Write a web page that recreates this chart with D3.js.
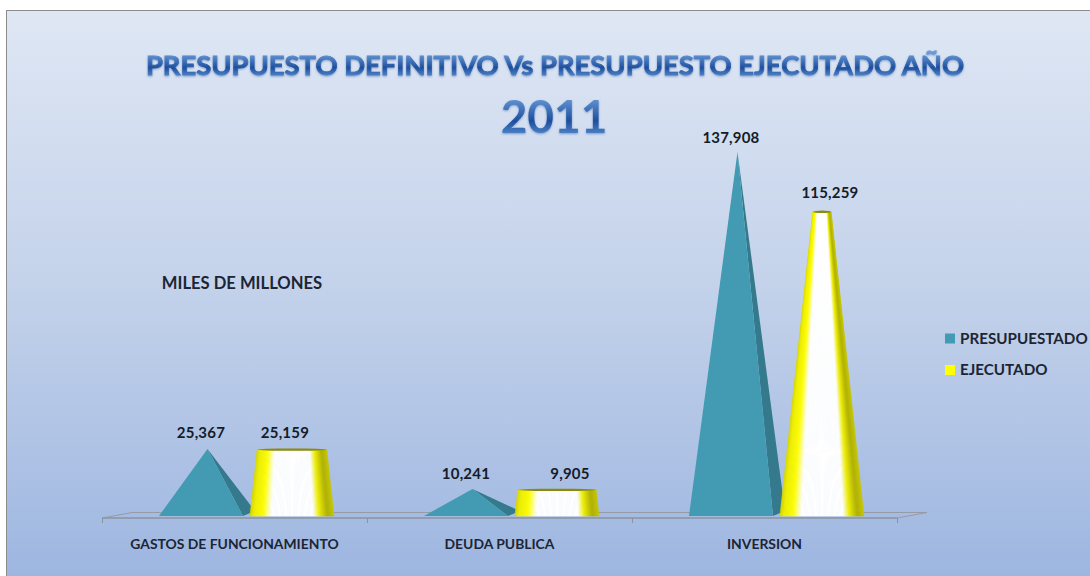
<!DOCTYPE html>
<html lang="en">
  <head>
    <title>Presupuesto definitivo vs ejecutado 2011</title>
    <meta charset="utf-8" />
    <script src="https://cdn.jsdelivr.net/npm/d3@7"></script>
    <style>
      html, body { margin: 0; padding: 0; background: #fff; }
      svg { display: block; }
      text { font-family: Lato, "Open Sans", sans-serif; font-weight: 700; }
    </style>
  </head>

  <body>
    <div id="chart"></div>

    <script>
      const categories = ["GASTOS DE FUNCIONAMIENTO", "DEUDA PUBLICA", "INVERSION"];
      const presupuestado = [25367, 10241, 137908];
      const ejecutado = [25159, 9905, 115259];
      const seriesNames = ["PRESUPUESTADO", "EJECUTADO"];
      const titleLine = "PRESUPUESTO DEFINITIVO Vs PRESUPUESTO EJECUTADO AÑO";
      const yearLine = "2011";
      const unitNote = "MILES DE MILLONES";

      const w = 1090;
      const h = 576;
      const fmt = d3.format(",");

      const svg = d3
        .select("#chart")
        .append("svg")
        .attr("width", w)
        .attr("height", h);

      const defs = svg.append("defs");

      const bg = defs
        .append("linearGradient")
        .attr("id", "bg")
        .attr("x1", 0)
        .attr("y1", 0)
        .attr("x2", 0)
        .attr("y2", 1);
      bg.append("stop").attr("offset", "0%").attr("stop-color", "#dfe7f4");
      bg.append("stop").attr("offset", "50%").attr("stop-color", "#c2d1ea");
      bg.append("stop").attr("offset", "100%").attr("stop-color", "#9cb5e0");

      const titleFill = defs
        .append("linearGradient")
        .attr("id", "titleFill")
        .attr("x1", 0)
        .attr("y1", 0)
        .attr("x2", 0)
        .attr("y2", 1);
      titleFill.append("stop").attr("offset", "15%").attr("stop-color", "#6b9bd8");
      titleFill.append("stop").attr("offset", "60%").attr("stop-color", "#1d4f9e");
      titleFill.append("stop").attr("offset", "90%").attr("stop-color", "#5b8fd2");

      const shadow = defs.append("filter").attr("id", "titleShadow");
      shadow
        .append("feDropShadow")
        .attr("dx", 0)
        .attr("dy", 1)
        .attr("stdDeviation", 0.8)
        .attr("flood-color", "#5a7fb5")
        .attr("flood-opacity", 0.7);

      // panel
      svg
        .append("rect")
        .attr("x", 6.5)
        .attr("y", 10.5)
        .attr("width", w)
        .attr("height", h)
        .attr("fill", "url(#bg)")
        .attr("stroke", "#8c8c8c");

      // scales
      const x = d3.scaleBand().domain(categories).range([102, 897]);
      const inner = d3
        .scaleBand()
        .domain(seriesNames)
        .range([0, 265])
        .paddingInner(0.077)
        .paddingOuter(0.4945)
        .align(0.633);
      const y = d3.scaleLinear().domain([0, 137908]).range([516, 152]);

      // floor
      const floorDepth = 30;
      const floorFront = 518;
      const floorBack = 512.5;
      const floorX = x.range();
      svg
        .append("path")
        .attr(
          "d",
          `M${floorX[0]},${floorFront}L${floorX[0] + floorDepth},${floorBack}` +
            `L${floorX[1] + floorDepth},${floorBack}L${floorX[1]},${floorFront}`
        )
        .attr("fill", "none")
        .attr("stroke", "#979ba6")
        .attr("stroke-width", 1);
      svg
        .append("line")
        .attr("x1", floorX[0])
        .attr("x2", floorX[1])
        .attr("y1", floorFront)
        .attr("y2", floorFront)
        .attr("stroke", "#8d93a0")
        .attr("stroke-width", 1.5);
      svg
        .append("g")
        .selectAll("line")
        .data(categories.concat("end"))
        .join("line")
        .attr("x1", (d, i) => (i < 3 ? x(d) : floorX[1]) + 0.5)
        .attr("x2", (d, i) => (i < 3 ? x(d) : floorX[1]) + 0.5)
        .attr("y1", floorFront)
        .attr("y2", floorFront + 5)
        .attr("stroke", "#8d93a0");

      // pyramids
      const pyramidDepth = 12;
      const tipShift = 6.5;
      const pyr = svg
        .append("g")
        .selectAll("g")
        .data(presupuestado)
        .join("g");
      const px = (i) => x(categories[i]) + inner(seriesNames[0]);
      const bw = inner.bandwidth();
      pyr
        .append("path")
        .attr("fill", "#35798c")
        .attr("d", function (d, i) {
          const tip = px(i) + bw / 2 + tipShift;
          return `M${tip},${y(d)}L${px(i) + bw + pyramidDepth},${y(0) - 5}L${px(i) + bw},${y(0)}Z`;
        });
      pyr
        .append("path")
        .attr("fill", "#429bb2")
        .attr("d", function (d, i) {
          const tip = px(i) + bw / 2 + tipShift;
          return `M${tip},${y(d)}L${px(i) + bw},${y(0)}L${px(i)},${y(0)}Z`;
        });

      // cones: they all taper towards the same apex value
      const coneApex = 147000;
      const coneColor = d3
        .scaleLinear()
        .domain([0, 0.04, 0.15, 0.25, 0.75, 0.82, 0.92, 1])
        .range(["#d8d800", "#eeee00", "#ffff00", "#ffffff", "#ffffff", "#eeee00", "#b0b000", "#c8c800"]);
      const stripCount = 70;
      const strips = d3.range(stripCount).map((k) => k / stripCount);
      const cx = (i) => x(categories[i]) + inner(seriesNames[1]) + bw / 2;
      const halfAt = (v) => (bw / 2) * (1 - v / coneApex);

      const cones = svg
        .append("g")
        .selectAll("g")
        .data(ejecutado)
        .join("g");
      cones.each(function (d, i) {
        const g = d3.select(this);
        const c = cx(i);
        const b = halfAt(0);
        const t = halfAt(d);
        g.selectAll("path")
          .data(strips)
          .join("path")
          .attr("fill", (f) => coneColor(f))
          .attr("stroke", (f) => coneColor(f))
          .attr("stroke-width", 0.6)
          .attr("d", function (f) {
            const f2 = f + 1 / stripCount;
            return (
              `M${c - b + 2 * b * f},${y(0)}L${c - t + 2 * t * f},${y(d)}` +
              `L${c - t + 2 * t * f2},${y(d)}L${c - b + 2 * b * f2},${y(0)}Z`
            );
          });
        g.append("ellipse")
          .attr("cx", c)
          .attr("cy", y(d))
          .attr("rx", t)
          .attr("ry", 1.2)
          .attr("fill", "#8a8a12");
      });

      // value labels, nudged by hand like the original
      const coneLabelShift = [-7, 13, 8];
      const coneLabelLift = [12, 11, 14];
      const pyrLabelLift = [11, 10, 9];
      svg
        .append("g")
        .selectAll("text")
        .data(presupuestado)
        .join("text")
        .attr("x", (d, i) => px(i) + bw / 2)
        .attr("y", (d, i) => y(d) - pyrLabelLift[i])
        .attr("text-anchor", "middle")
        .attr("font-size", 15)
        .attr("letter-spacing", 0.2)
        .attr("fill", "#141c28")
        .text(fmt);
      svg
        .append("g")
        .selectAll("text")
        .data(ejecutado)
        .join("text")
        .attr("x", (d, i) => cx(i) + coneLabelShift[i])
        .attr("y", (d, i) => y(d) - coneLabelLift[i])
        .attr("text-anchor", "middle")
        .attr("font-size", 15)
        .attr("letter-spacing", 0.2)
        .attr("fill", "#141c28")
        .text(fmt);

      // category labels
      svg
        .append("g")
        .selectAll("text")
        .data(categories)
        .join("text")
        .attr("x", (d) => x(d) + x.bandwidth() / 2)
        .attr("y", 549)
        .attr("text-anchor", "middle")
        .attr("font-size", 13.9)
        .attr("fill", "#1c2534")
        .text((d) => d);

      // titles
      svg
        .append("text")
        .attr("x", 555)
        .attr("y", 75)
        .attr("text-anchor", "middle")
        .attr("font-size", 27.4)
        .attr("fill", "url(#titleFill)")
        .attr("stroke", "url(#titleFill)")
        .attr("stroke-width", 0.8)
        .attr("filter", "url(#titleShadow)")
        .text(titleLine);
      svg
        .append("text")
        .attr("x", 554)
        .attr("y", 133)
        .attr("text-anchor", "middle")
        .attr("font-size", 46)
        .attr("fill", "url(#titleFill)")
        .attr("filter", "url(#titleShadow)")
        .text(yearLine);

      svg
        .append("text")
        .attr("x", 242)
        .attr("y", 289)
        .attr("text-anchor", "middle")
        .attr("font-size", 16.6)
        .attr("fill", "#1c2534")
        .text(unitNote);

      // legend
      const legendY = d3.scalePoint().domain(seriesNames).range([338.5, 370]);
      const legendColor = d3.scaleOrdinal().domain(seriesNames).range(["#429bb2", "#ffff00"]);
      const legend = svg
        .append("g")
        .selectAll("g")
        .data(seriesNames)
        .join("g")
        .attr("transform", (d) => `translate(945,${legendY(d)})`);
      legend
        .append("rect")
        .attr("x", 0)
        .attr("y", -5)
        .attr("width", 10)
        .attr("height", 10)
        .attr("fill", legendColor);
      legend
        .append("text")
        .attr("x", 15)
        .attr("y", 5)
        .attr("font-size", 15.2)
        .attr("fill", "#1c2534")
        .text((d) => d);
    </script>
  </body>
</html>
